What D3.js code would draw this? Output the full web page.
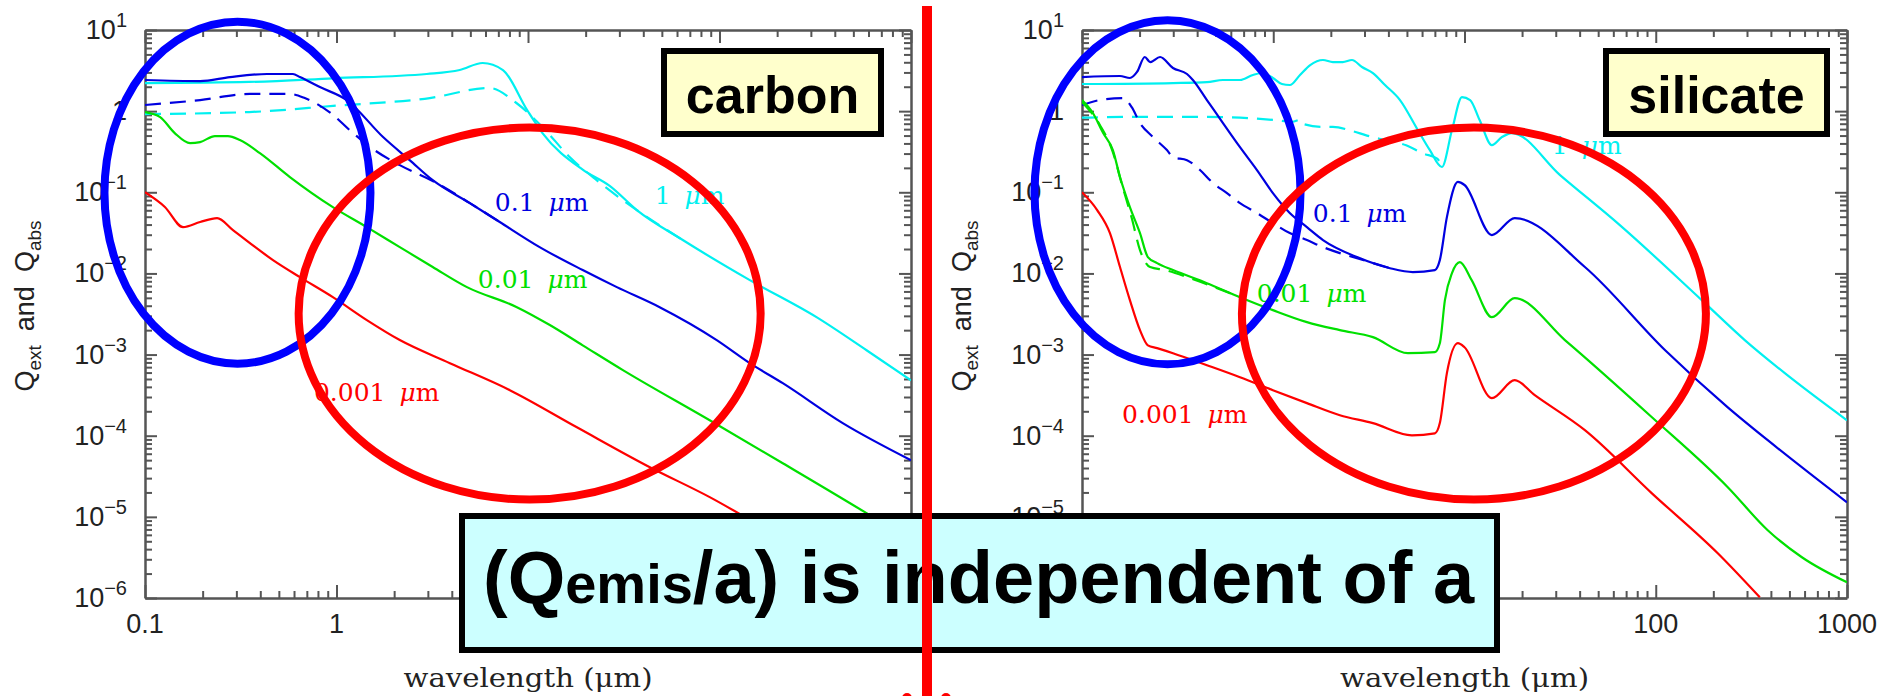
<!DOCTYPE html>
<html>
<head>
<meta charset="utf-8">
<script src="https://cdn.jsdelivr.net/npm/d3@7"></script>
<style>
  body { margin: 0; background: #fff; }
  svg { display: block; }
  .tick-label { font-family: "Liberation Sans", Arial, sans-serif; font-size: 27px; fill: #222; }
  .axis-title { font-family: "DejaVu Serif", serif; font-size: 26px; fill: #222; }
  .curve-label { font-family: "DejaVu Serif", serif; font-size: 25px; }
  .box-label { font-family: "Liberation Sans", Arial, sans-serif; font-weight: bold; }
</style>
</head>
<body>
<div id="svg"></div>
<script>
/* Q_ext and Q_abs for carbon and silicate grains
 * [wavelength (um), Q] pairs
 */

// ---- carbon ----
let carbonExt1um = [[0.1,2.22],[0.35,2.29],[0.96,2.54],[2.96,2.87],[4.4,3.21],[5.8,3.92],[7.4,3.21],
  [9.9,1.03],[11.9,0.537],[19.3,0.19],[26.7,0.12],[37,0.0604],[64.3,0.0258],[144,0.00826],
  [321,0.00289],[586,0.00113],[1000,0.00048]];
let carbonAbs1um = [[0.1,0.92],[0.35,0.975],[0.96,1.16],[3.07,1.45],[6.3,1.93],[8.7,1.26],[11.9,0.637],
  [16.5,0.272],[22.9,0.14],[37,0.0604],[64.3,0.0258]];
let carbonExt01um = [[0.1,2.42],[0.194,2.35],[0.278,2.63],[0.434,2.87],[0.592,2.87],[0.644,2.63],
  [0.819,1.98],[1.13,1.37],[1.75,0.48],[2.41,0.249],[3.18,0.141],[4.97,0.0736],[7.12,0.043],
  [11.5,0.0211],[19.3,0.011],[29.1,0.00678],[48.7,0.00384],[96.7,0.00151],[144,0.000784],
  [214,0.000444],[440,0.000143],[1000,0.0000499]];
let carbonAbs01um = [[0.1,1.19],[0.194,1.37],[0.353,1.63],[0.57,1.63],[0.683,1.45],[0.96,0.896],
  [1.17,0.585],[1.58,0.331],[2.14,0.216],[3.18,0.138],[4.97,0.0736],[7.12,0.043]];
let carbonExt001um = [[0.1,0.975],[0.12,0.845],[0.143,0.537],[0.172,0.404],[0.194,0.416],[0.232,0.493],
  [0.271,0.493],[0.313,0.44],[0.398,0.304],[0.571,0.154],[0.957,0.0656],[1.44,0.0372],[2.14,0.0211],
  [3.18,0.012],[4.8,0.00678],[8.75,0.00384],[13,0.00231],[19.3,0.0013],[31.3,0.000643],
  [88.9,0.000155],[214,0.0000458],[586,0.0000111],[1000,0.0000051]];
let carbonExt0001um = [[0.1,0.1],[0.127,0.0658],[0.158,0.0372],[0.194,0.043],[0.238,0.0481],
  [0.288,0.0342],[0.466,0.0146],[0.644,0.009],[0.957,0.0051],[1.44,0.00266],[2.14,0.00151],
  [3.91,0.000784],[8.04,0.000364],[18,0.000127],[43.3,0.0000409],[88.9,0.0000175],
  [162,0.00000787],[479,0.0000019],[700,0.00000095]];

// ---- silicate ----
let silExt1um = [[0.1,2.16],[0.299,2.22],[0.45,2.28],[0.546,2.42],[0.67,2.42],[0.783,2.79],[0.873,2.95],
  [0.996,2.56],[1.11,2.16],[1.22,2.1],[1.38,2.79],[1.56,3.7],[1.82,4.27],[2.05,4.03],[2.31,4.03],
  [2.58,4.27],[2.91,3.5],[3.32,2.95],[3.84,2.1],[4.6,1.37],[5.7,0.585],[6.59,0.331],[7.62,0.205],
  [8.6,0.585],[9.7,1.49],[10.7,1.37],[12,0.776],[13.9,0.382],[15.7,0.48],[17.7,0.537],
  [31.6,0.163],[64.9,0.0394],[174,0.00469],[292,0.00151],[473,0.00059],[1000,0.000155]];
let silAbs1um = [[0.1,0.83],[0.189,0.85],[0.45,0.85],[0.67,0.83],[0.996,0.78],[1.26,0.74],[1.38,0.78],
  [1.45,0.69],[1.82,0.64],[2.05,0.64],[2.58,0.57],[3.09,0.5],[3.84,0.44],[4.95,0.38],[6.1,0.3],
  [7.2,0.26],[7.62,0.205]];
let silExt01um = [[0.1,2.63],[0.158,2.71],[0.178,2.56],[0.194,3.04],[0.213,4.65],[0.227,4.03],
  [0.256,4.65],[0.299,3.4],[0.354,2.87],[0.38,2.42],[0.45,1.37],[0.546,0.713],[0.67,0.36],
  [0.822,0.188],[0.996,0.0977],[1.22,0.0555],[1.5,0.0372],[1.82,0.0258],[2.74,0.0159],
  [4.08,0.0116],[5.37,0.0104],[7.0,0.011],[7.43,0.0146],[8.09,0.0494],[9.23,0.134],[10,0.123],
  [13.9,0.0297],[18.3,0.0481],[42.6,0.012],[112,0.00113],[238,0.000224],[385,0.0000881],
  [1000,0.0000151]];
let silAbs01um = [[0.1,1.19],[0.124,1.37],[0.164,1.45],[0.182,1.12],[0.201,0.713],[0.235,0.48],
  [0.278,0.331],[0.299,0.272],[0.354,0.249],[0.414,0.188],[0.484,0.13],[0.573,0.0977],[0.67,0.0736],
  [0.822,0.0555],[0.996,0.0417],[1.22,0.0314],[1.5,0.0258],[1.82,0.0211],[2.23,0.0178],
  [2.74,0.0154],[4.08,0.0116]];
let silExt001um = [[0.1,1.37],[0.114,0.948],[0.129,0.537],[0.145,0.331],[0.158,0.154],[0.178,0.0656],
  [0.201,0.0314],[0.221,0.0159],[0.247,0.0134],[0.299,0.011],[0.45,0.00759],[0.67,0.0051],
  [0.996,0.00353],[1.5,0.00251],[2.23,0.002],[3.32,0.00164],[5.06,0.00104],[7.0,0.00107],
  [7.43,0.00138],[7.9,0.00469],[8.6,0.0101],[9.46,0.0138],[10.9,0.00826],[13.9,0.00289],
  [18.3,0.00495],[33.5,0.00151],[95.5,0.000169],[238,0.0000232],[385,0.00000684],
  [581,0.00000318],[1000,0.00000156]];
let silAbs001um = [[0.1,1.29],[0.124,0.674],[0.145,0.313],[0.162,0.123],[0.182,0.0481],[0.201,0.0194],
  [0.227,0.012],[0.272,0.011],[0.367,0.00875],[0.67,0.0051]];
let silExt0001um = [[0.1,0.1],[0.12,0.0604],[0.14,0.0314],[0.158,0.012],[0.178,0.00469],[0.201,0.002],
  [0.221,0.0013],[0.247,0.0012],[0.299,0.00104],[0.45,0.00074],[0.67,0.000526],[0.996,0.000364],
  [1.5,0.000252],[2.23,0.000179],[3.32,0.000143],[5.31,0.000101],[7.0,0.000107],[7.43,0.000143],
  [8.09,0.00059],[9.23,0.00138],[10,0.00123],[13.9,0.00029],[18.3,0.000483],[23.3,0.000316],
  [42.6,0.000117],[95.5,0.0000195],[211,0.00000356],[350,0.00000102]];

// tick values
let xDecades = [0.1, 1, 10, 100, 1000];
let xTickLabels = ["0.1", "1", "10", "100", "1000"];
let yExponents = [1, 0, -1, -2, -3, -4, -5, -6];

// curve labels: [text, wavelength, Q, colour]
let carbonLabels = [["0.1 ", 6.71, 0.0586, "#0000e0"], ["1 ", 45.9, 0.0715, "#00f0f0"],
  ["0.01 ", 5.47, 0.00659, "#00e000"], ["0.001 ", 0.762, 0.000266, "#ff0000"]];
let silLabels = [["0.1 ", 1.61, 0.043, "#0000e0"], ["1 ", 28.6, 0.296, "#00f0f0"],
  ["0.01 ", 0.82, 0.00443, "#00e000"], ["0.001 ", 0.162, 0.000143, "#ff0000"]];

let panels = [
  { name: "carbon", left: 145, right: 911, yTitleX: 34,
    series: [[carbonExt1um, "#00f0f0", null], [carbonAbs1um, "#00f0f0", "16,9"],
             [carbonExt01um, "#0000e0", null], [carbonAbs01um, "#0000e0", "16,9"],
             [carbonExt001um, "#00e000", null], [carbonExt0001um, "#ff0000", null]],
    labels: carbonLabels,
    // annotation ellipses: [wavelength, Q, rx, ry, colour]
    rings: [[0.304, 0.099, 133, 171, "#0000ff"], [10.2, 0.0032, 231, 186, "#ff0000"]],
    box: { x: 664, w: 217 } },
  { name: "silicate", left: 1082, right: 1847, yTitleX: 971,
    series: [[silExt1um, "#00f0f0", null], [silAbs1um, "#00f0f0", "16,9"],
             [silExt01um, "#0000e0", null], [silAbs01um, "#0000e0", "16,9"],
             [silExt001um, "#00e000", null], [silAbs001um, "#00e000", "16,9"],
             [silExt0001um, "#ff0000", null]],
    labels: silLabels,
    rings: [[0.28, 0.1, 133, 172, "#0000ff"], [11.2, 0.0032, 232, 186, "#ff0000"]],
    box: { x: 1606, w: 221 } }
];

let w = 1885, h = 696;
let plotTop = 30, plotBottom = 598;

function isMajor(d) {
  let l = Math.log10(d);
  return Math.abs(l - Math.round(l)) < 1e-6;
}

function makeGraph() {
  let svg = d3.select("#svg").append("svg")
    .attr("width", w).attr("height", h);

  let xTicks = [];
  for (let e = -1; e <= 2; e++) for (let m = 1; m <= 9; m++) xTicks.push(m * Math.pow(10, e));
  xTicks.push(1000);
  let yTicks = [];
  for (let e = -6; e <= 0; e++) for (let m = 1; m <= 9; m++) yTicks.push(m * Math.pow(10, e));
  yTicks.push(10);

  let ringLayer = [];

  panels.forEach((p, pi) => {
    let x = d3.scaleLog().domain([0.1, 1000]).range([p.left, p.right]);
    let y = d3.scaleLog().domain([1e-6, 10]).range([plotBottom, plotTop]);
    let g = svg.append("g");

    g.append("clipPath").attr("id", "clip" + pi)
      .append("rect").attr("x", p.left).attr("y", plotTop)
      .attr("width", p.right - p.left).attr("height", plotBottom - plotTop);

    // axes with inward ticks on all four sides
    let specs = [
      [d3.axisBottom(x).tickValues(xTicks), `translate(0,${plotBottom})`, "y2", -1],
      [d3.axisTop(x).tickValues(xTicks), `translate(0,${plotTop})`, "y2", 1],
      [d3.axisLeft(y).tickValues(yTicks), `translate(${p.left},0)`, "x2", 1],
      [d3.axisRight(y).tickValues(yTicks), `translate(${p.right},0)`, "x2", -1]
    ];
    specs.forEach(([ax, tr, attr, sgn], i) => {
      let big = i < 2 ? 13 : 12;
      let a = g.append("g").attr("transform", tr)
        .call(ax.tickSizeInner(-big).tickSizeOuter(0).tickFormat(() => ""));
      a.selectAll(".tick line")
        .attr(attr, d => sgn * (isMajor(d) ? big : 7))
        .attr("stroke", "#555").attr("stroke-width", 2);
      a.select(".domain").attr("stroke", "#555").attr("stroke-width", 2.5);
    });

    // x tick labels
    g.selectAll(".xl").data(xDecades).enter().append("text")
      .attr("class", "tick-label")
      .attr("x", d => x(d)).attr("y", 633)
      .attr("text-anchor", "middle")
      .text((d, i) => xTickLabels[i]);

    // y tick labels 10^n
    let yl = g.selectAll(".yl").data(yExponents).enter().append("text")
      .attr("class", "tick-label")
      .attr("x", p.left - 18).attr("y", d => y(Math.pow(10, d)) + 9)
      .attr("text-anchor", "end");
    yl.append("tspan").text(d => d === 0 ? "1" : "10");
    yl.filter(d => d !== 0).append("tspan")
      .attr("dy", -12).attr("font-size", 20)
      .text(d => d < 0 ? "\u2212" + (-d) : String(d));

    // axis titles
    g.append("text").attr("class", "axis-title")
      .attr("x", (p.left + p.right) / 2).attr("y", 687)
      .attr("text-anchor", "middle")
      .attr("textLength", 249).attr("lengthAdjust", "spacingAndGlyphs")
      .text("wavelength (\u03bcm)");

    let yt = g.append("text")
      .attr("class", "tick-label")
      .attr("font-size", 26)
      .attr("transform", `translate(${p.yTitleX},306) rotate(-90)`)
      .attr("text-anchor", "middle");
    yt.append("tspan").text("Q");
    yt.append("tspan").attr("font-size", 19).attr("dy", 7).text("ext");
    yt.append("tspan").attr("dy", -7).attr("dx", 14).text("and");
    yt.append("tspan").attr("dx", 14).text("Q");
    yt.append("tspan").attr("font-size", 19).attr("dy", 7).text("abs");

    // curves
    let line = d3.line()
      .x(d => x(d[0])).y(d => y(d[1]))
      .curve(d3.curveMonotoneX);
    g.append("g").attr("clip-path", `url(#clip${pi})`)
      .selectAll("path").data(p.series).enter().append("path")
      .attr("d", d => line(d[0]))
      .attr("fill", "none")
      .attr("stroke", d => d[1])
      .attr("stroke-width", 2.2)
      .attr("stroke-dasharray", d => d[2]);

    // curve labels
    let lab = g.selectAll(".cl").data(p.labels).enter().append("text")
      .attr("class", "curve-label")
      .attr("x", d => x(d[1])).attr("y", d => y(d[2]))
      .attr("fill", d => d[3]);
    lab.append("tspan").text(d => d[0]);
    lab.append("tspan").attr("dx", 6).attr("font-style", "italic").text("\u03bc");
    lab.append("tspan").text("m");

    p.rings.forEach(r => ringLayer.push({ cx: x(r[0]), cy: y(r[1]), rx: r[2], ry: r[3], c: r[4] }));
  });

  // highlighted regions
  svg.append("g").selectAll("ellipse").data(ringLayer).enter().append("ellipse")
    .attr("cx", d => d.cx).attr("cy", d => d.cy)
    .attr("rx", d => d.rx).attr("ry", d => d.ry)
    .attr("fill", "none").attr("stroke", d => d.c).attr("stroke-width", 8);

  // material boxes
  panels.forEach(p => {
    svg.append("rect")
      .attr("x", p.box.x).attr("y", 51).attr("width", p.box.w).attr("height", 83)
      .attr("fill", "#ffffcc").attr("stroke", "#000").attr("stroke-width", 6);
    svg.append("text").attr("class", "box-label")
      .attr("x", p.box.x + p.box.w / 2).attr("y", 113)
      .attr("text-anchor", "middle").attr("font-size", 52)
      .text(p.name);
  });

  // statement box
  svg.append("rect")
    .attr("x", 462).attr("y", 516).attr("width", 1035).attr("height", 134)
    .attr("fill", "#ccffff").attr("stroke", "#000").attr("stroke-width", 6);
  let st = svg.append("text").attr("class", "box-label")
    .attr("x", 483).attr("y", 603).attr("font-size", 74);
  st.append("tspan").text("(Q");
  st.append("tspan").attr("font-size", 56).text("emis");
  st.append("tspan").text("/a) is independent of a");

  // divider
  svg.append("rect").attr("x", 922).attr("y", 6).attr("width", 10).attr("height", h)
    .attr("fill", "#ff0000");
  svg.selectAll(".dot").data([907, 946]).enter().append("circle")
    .attr("cx", d => d).attr("cy", 698).attr("r", 5).attr("fill", "#ff0000");
}

window.onload = function() {
  makeGraph();
};
</script>
</body>
</html>
